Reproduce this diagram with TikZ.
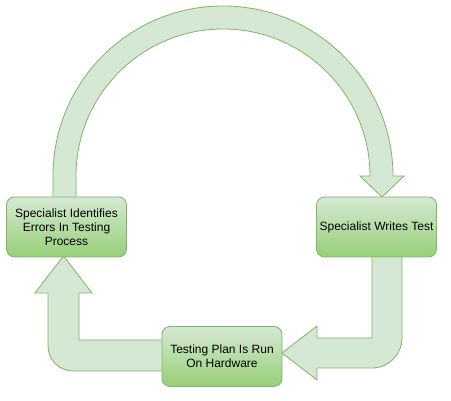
\documentclass[tikz,border=0pt]{standalone}
\usepackage{fontspec}
\setmainfont{Liberation Sans}
\definecolor{gfill}{HTML}{D5E8D4}
\definecolor{gline}{HTML}{82B366}
\definecolor{gdark}{HTML}{97D077}
\begin{document}
\begin{tikzpicture}[x=1pt,y=1pt,
  bigarrow/.style={fill=gfill, draw=gline, line width=0.8pt, line join=miter},
  stepbox/.style={draw=gline, line width=0.8pt, rounded corners=8pt,
    top color=gfill, bottom color=gdark, minimum width=120pt, minimum height=60pt,
    align=center, font=\fontsize{12}{14}\selectfont, inner sep=2pt}]
\useasboundingbox (0,0) rectangle (451,401);
% top arc arrow
\draw[bigarrow] (53,200) -- (53,225) arc[start angle=180,end angle=0,radius=170]
  -- (404,225) -- (382,204) -- (360,225) -- (370,225)
  arc[start angle=0,end angle=180,radius=147] -- (76,200) -- cycle;
% bottom right arrow
\draw[bigarrow] (372,150) -- (372,63) -- (317,63) -- (317,75) -- (282,48)
  -- (317,21) -- (317,33) -- (372,33) arc[start angle=-90,end angle=0,radius=30]
  -- (402,150) -- cycle;
% bottom left arrow
\draw[bigarrow] (170,61) -- (79,61) -- (79,108) -- (92,108) -- (63.5,145)
  -- (35,108) -- (48,108) -- (48,55) arc[start angle=180,end angle=270,radius=25]
  -- (170,30) -- cycle;
% boxes
\node[stepbox] (ident) at (66.5,174) {Specialist Identifies\\Errors In Testing\\Process};
\node[stepbox] (writes) at (376.5,174) {Specialist Writes Test};
\node[stepbox] (run) at (222,44.5) {Testing Plan Is Run\\On Hardware};
\end{tikzpicture}
\end{document}
